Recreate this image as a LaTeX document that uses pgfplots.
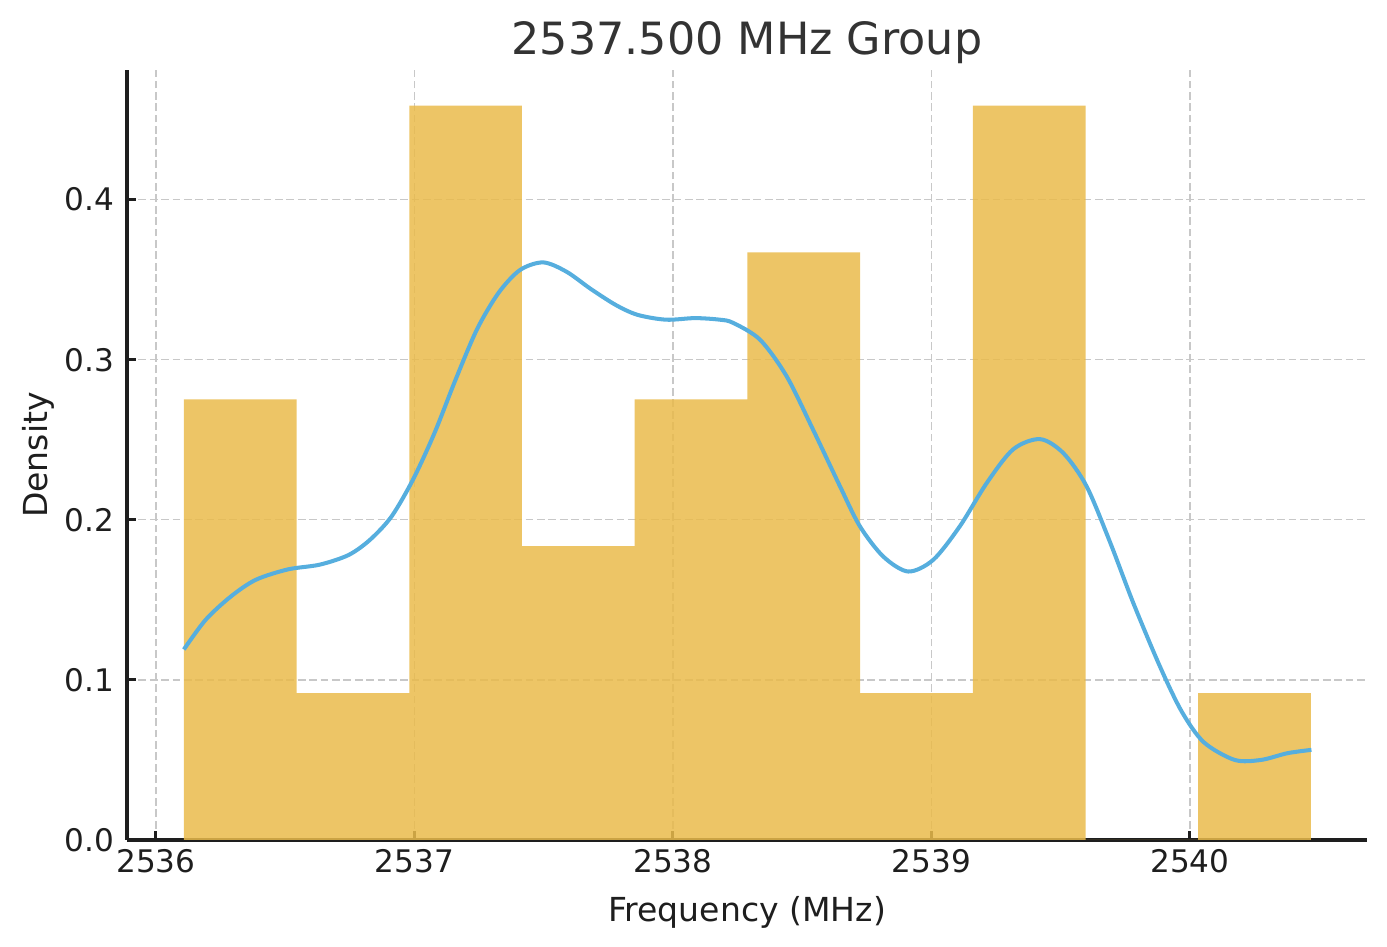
\documentclass[border=0pt]{standalone}
\usepackage{fontspec}
\setmainfont{DejaVu Sans}
\usepackage{pgfplots}
\pgfplotsset{compat=1.18}
\definecolor{barcol}{RGB}{234,187,75}
\definecolor{kdecol}{RGB}{86,174,222}
\definecolor{gridcol}{RGB}{200,200,200}
\definecolor{txt}{RGB}{30,30,30}
\definecolor{titlecol}{RGB}{51,51,51}
\begin{document}
\begin{tikzpicture}
\begin{axis}[
  name=ax,
  scale only axis,
  width=446.4pt, height=277.2pt,
  xmin=2535.888, xmax=2540.685,
  ymin=0, ymax=0.481,
  axis x line*=bottom, axis y line*=left,
  axis line style={line width=1.1pt, color=txt},
  xtick={2536,2537,2538,2539,2540},
  ytick={0,0.1,0.2,0.3,0.4},
  tick align=inside,
  major tick length=3.3pt,
  tick style={line width=1.1pt, color=txt},
  /pgf/number format/assume math mode=true,
  xticklabel style={/pgf/number format/1000 sep={}, font=\fontsize{11.2}{13}\selectfont, text=txt},
  yticklabel style={/pgf/number format/fixed, /pgf/number format/precision=1, /pgf/number format/fixed zerofill, font=\fontsize{11.2}{13}\selectfont, text=txt, xshift=-1pt},
  grid=major,
  major grid style={gridcol, line width=0.45pt, dash pattern=on 2.8pt off 1.3pt},
  xlabel={Frequency (MHz)},
  ylabel={Density},
  xlabel style={at={(axis description cs:0.5,-0.106)}, anchor=base, font=\fontsize{11.9}{14}\selectfont, text=txt},
  ylabel style={at={(axis description cs:-0.0645,0.5)}, anchor=base, font=\fontsize{11.9}{14}\selectfont, text=txt},
  title={2537.500 MHz Group},
  title style={at={(axis description cs:0.5,0.9985)}, anchor=base, font=\fontsize{16}{19}\selectfont, text=titlecol},
]
\addplot[ybar interval, fill=barcol, fill opacity=0.85, draw=none] coordinates {
(2536.108,0.2752) (2536.544,0.0917) (2536.980,0.4587) (2537.416,0.1835)
(2537.852,0.2752) (2538.288,0.3670) (2538.724,0.0917) (2539.160,0.4587)
(2539.596,0.0) (2540.032,0.0917) (2540.468,0.0917)
};
\addplot[smooth, kdecol, line width=1.45pt] coordinates {
(2536.108,0.119) (2536.192,0.1375) (2536.289,0.152) (2536.386,0.1625)
(2536.510,0.169) (2536.634,0.172) (2536.745,0.178) (2536.828,0.1875)
(2536.911,0.202) (2536.994,0.225) (2537.077,0.254) (2537.159,0.2875)
(2537.242,0.319) (2537.325,0.3417) (2537.408,0.356) (2537.498,0.3608)
(2537.588,0.355) (2537.684,0.344) (2537.781,0.334) (2537.864,0.328)
(2537.974,0.325) (2538.085,0.326) (2538.182,0.325) (2538.233,0.323)
(2538.337,0.3125) (2538.440,0.2896) (2538.543,0.256) (2538.646,0.221)
(2538.723,0.196) (2538.814,0.177) (2538.910,0.1677) (2539.007,0.175)
(2539.110,0.196) (2539.214,0.223) (2539.316,0.244) (2539.420,0.2504)
(2539.510,0.2417) (2539.600,0.221) (2539.691,0.186) (2539.781,0.148)
(2539.885,0.108) (2539.969,0.080) (2540.054,0.061) (2540.173,0.050)
(2540.275,0.050) (2540.377,0.0542) (2540.470,0.0563)
};
\end{axis}
\pgfresetboundingbox
\path[use as bounding box] ([shift={(-45.72pt,-38.52pt)}]ax.south west) rectangle ([shift={(7.2pt,25.2pt)}]ax.north east);
\end{tikzpicture}
\end{document}
